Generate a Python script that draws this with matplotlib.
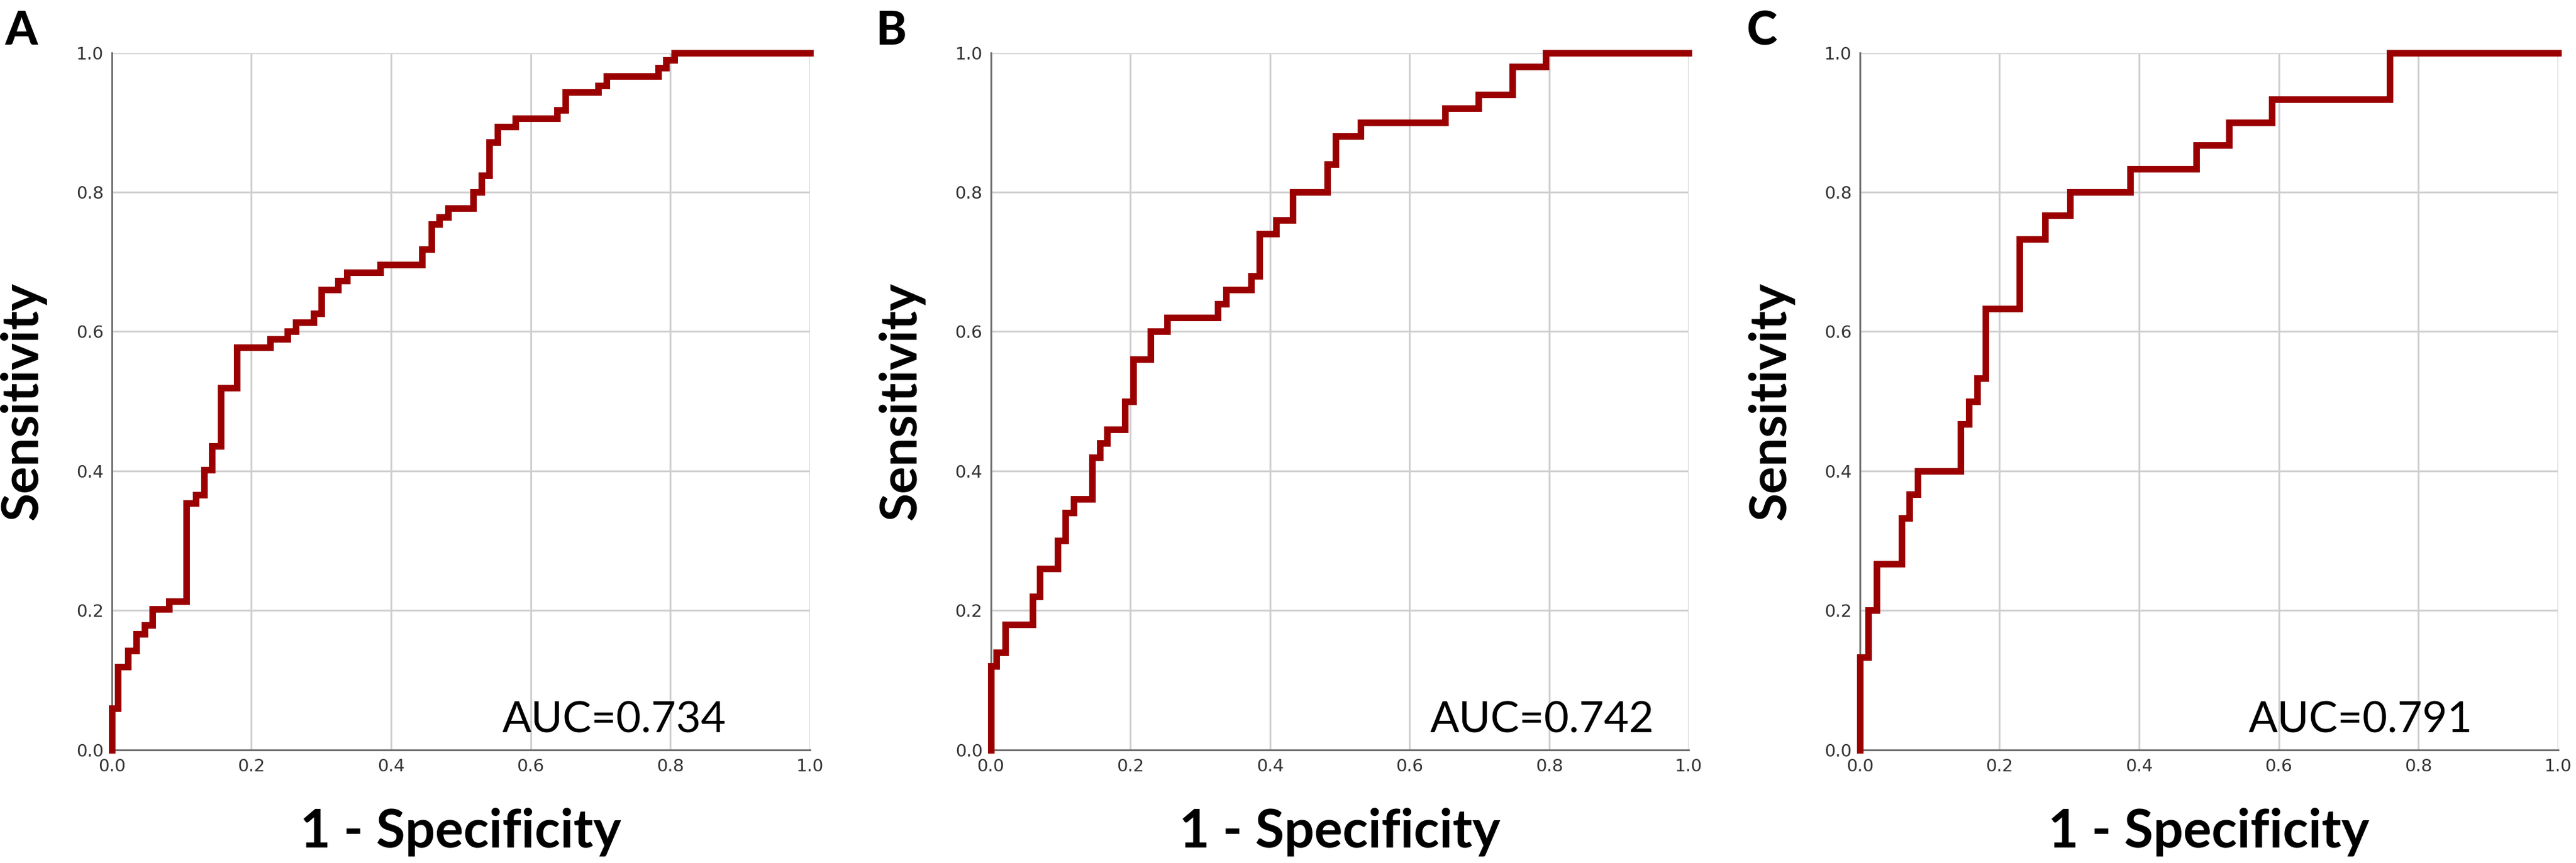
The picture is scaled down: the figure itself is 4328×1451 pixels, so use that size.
import matplotlib
matplotlib.use('Agg')
import matplotlib.pyplot as plt

# Panel A
fpr_a = [0, 0, 0.009, 0.023, 0.035, 0.047, 0.058, 0.082, 0.107, 0.120, 0.132, 0.143, 0.156,
         0.179, 0.227, 0.252, 0.264, 0.289, 0.300, 0.324, 0.337, 0.385, 0.444, 0.458, 0.469,
         0.482, 0.518, 0.530, 0.541, 0.553, 0.578, 0.638, 0.650, 0.697, 0.709, 0.783, 0.794,
         0.806, 1.0]
tpr_a = [0, 0.060, 0.119, 0.142, 0.166, 0.179, 0.202, 0.213, 0.354, 0.366, 0.402, 0.436, 0.519,
         0.577, 0.589, 0.600, 0.613, 0.626, 0.660, 0.673, 0.685, 0.696, 0.718, 0.754, 0.764,
         0.777, 0.800, 0.824, 0.872, 0.894, 0.906, 0.918, 0.943, 0.953, 0.966, 0.978, 0.989,
         1.0, 1.0]

# Panel B
fpr_b = [0, 0, 0.008, 0.021, 0.060, 0.070, 0.096, 0.107, 0.119, 0.145, 0.156, 0.167, 0.192,
         0.204, 0.229, 0.253, 0.325, 0.337, 0.373, 0.385, 0.409, 0.433, 0.482, 0.494, 0.530,
         0.651, 0.699, 0.747, 0.795, 1.0]
tpr_b = [0, 0.12, 0.14, 0.18, 0.22, 0.26, 0.30, 0.34, 0.36, 0.42, 0.44, 0.46, 0.50,
         0.56, 0.60, 0.62, 0.64, 0.66, 0.68, 0.74, 0.76, 0.80, 0.84, 0.88, 0.90,
         0.92, 0.94, 0.98, 1.0, 1.0]

# Panel C
fpr_c = [0, 0, 0.012, 0.024, 0.060, 0.071, 0.083, 0.144, 0.156, 0.168, 0.180, 0.229, 0.265,
         0.301, 0.387, 0.482, 0.529, 0.590, 0.759, 1.0]
tpr_c = [0, 0.133, 0.200, 0.267, 0.333, 0.367, 0.400, 0.467, 0.500, 0.533, 0.633, 0.733, 0.767,
         0.800, 0.833, 0.867, 0.900, 0.933, 1.0, 1.0]

letters = ['A', 'B', 'C']
auc_labels = ['AUC=0.734', 'AUC=0.742', 'AUC=0.791']
auc_x = [0.72, 0.79, 0.717]
ticks = [0.0, 0.2, 0.4, 0.6, 0.8, 1.0]
tick_labels = ['0.0', '0.2', '0.4', '0.6', '0.8', '1.0']

curves = [(fpr_a, tpr_a), (fpr_b, tpr_b), (fpr_c, tpr_c)]
lefts = [0.0434, 0.3846, 0.722]
letter_x = [0.002, 0.340, 0.678]

fig = plt.figure(figsize=(43.28, 14.51), dpi=100)

for i in range(3):
    ax = fig.add_axes([lefts[i], 0.131, 0.271, 0.808])
    fx, ty = curves[i]
    ax.plot(fx, ty, drawstyle='steps-post', color='#9b0000', lw=8,
            solid_joinstyle='miter', zorder=3, clip_on=False)
    ax.set_xlim(0, 1)
    ax.set_ylim(0, 1)
    ax.set_xticks(ticks)
    ax.set_yticks(ticks)
    ax.set_xticklabels(tick_labels)
    ax.set_yticklabels(tick_labels)
    ax.tick_params(length=0, labelsize=21, labelcolor='#333333', pad=10)
    ax.grid(True, color='#cfcfcf', lw=2.2)
    ax.set_axisbelow(True)
    for s in ['top', 'right']:
        ax.spines[s].set_visible(False)
    for s in ['left', 'bottom']:
        ax.spines[s].set_color('#707070')
        ax.spines[s].set_linewidth(2.2)
    # frame lines at 1.0 as light grid
    ax.axhline(1.0, color='#d5d5d5', lw=2.2, zorder=1)
    ax.axvline(1.0, color='#d5d5d5', lw=2.2, zorder=1)
    ax.set_xlabel('1 - Specificity', fontsize=64, fontweight='bold',
                  family=['Lato', 'DejaVu Sans'], labelpad=40)
    ax.set_ylabel('Sensitivity', fontsize=62, fontweight='bold',
                  family=['Lato', 'DejaVu Sans'], labelpad=36)
    ax.text(auc_x[i], 0.025, auc_labels[i], fontsize=52, ha='center', va='baseline',
            family=['Lato', 'DejaVu Sans'], zorder=4)
    fig.text(letter_x[i], 0.988, letters[i], fontsize=56, fontweight='black',
             family=['Lato', 'DejaVu Sans'], ha='left', va='top')

plt.savefig('out.png', dpi=100)
